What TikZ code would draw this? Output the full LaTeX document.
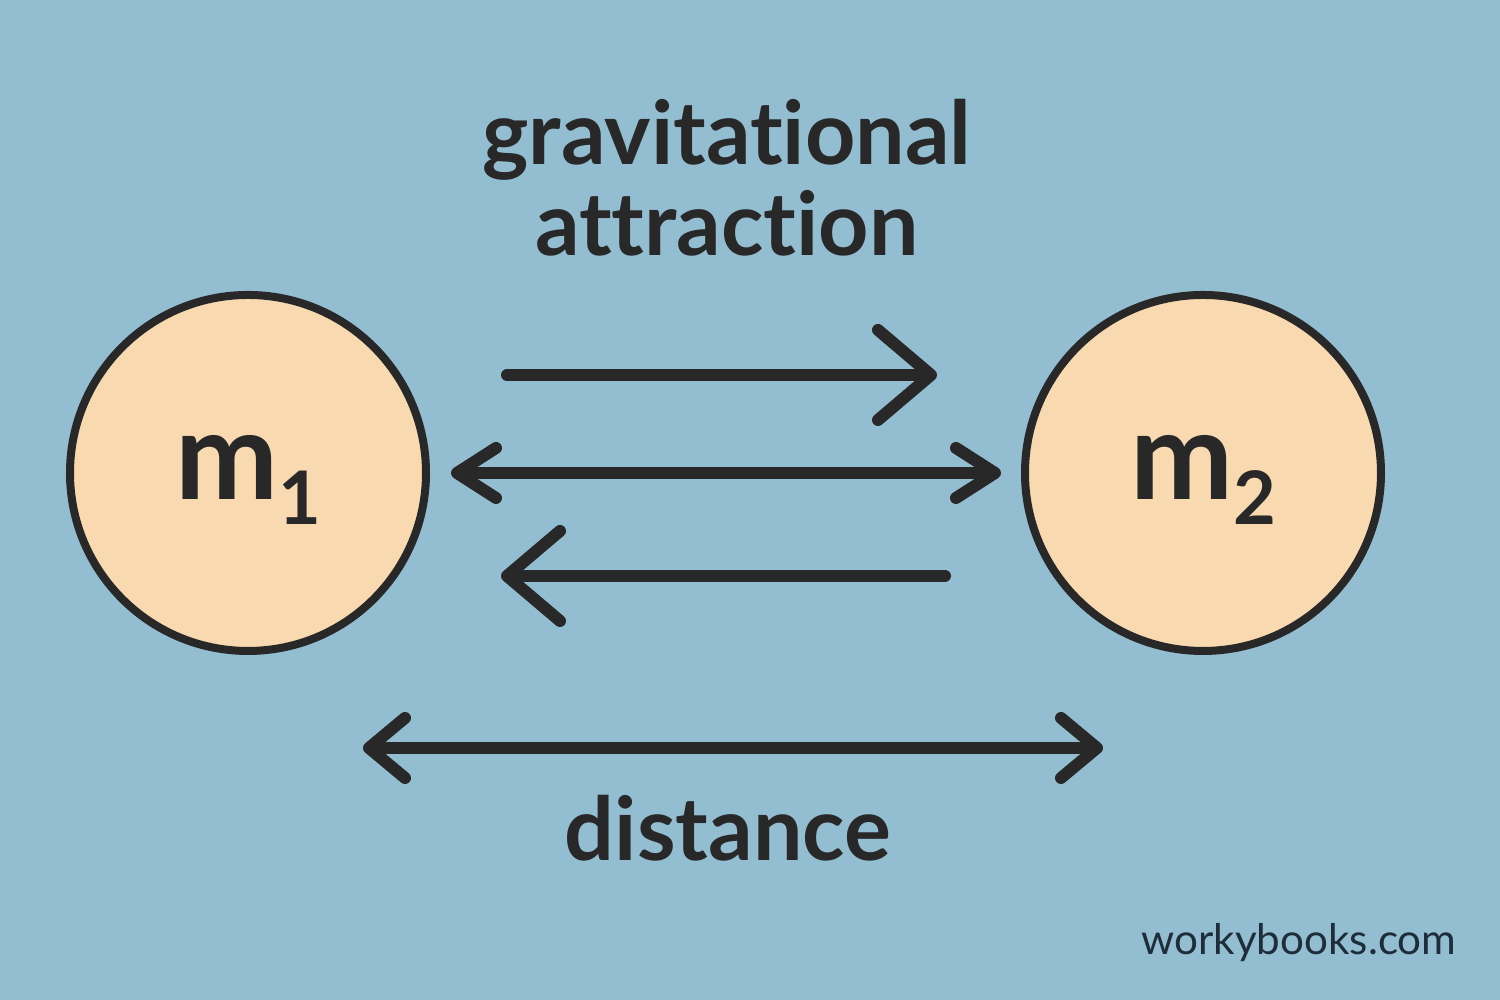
\documentclass[tikz,border=0pt]{standalone}
\usepackage{fontspec}
\setmainfont{Lato}[Ligatures=NoCommon]
\usepackage{tikz}
\usetikzlibrary{arrows.meta,positioning}
\definecolor{skyback}{RGB}{147,189,208}
\definecolor{massfill}{RGB}{249,218,176}
\definecolor{ink}{RGB}{40,40,40}
\definecolor{webink}{RGB}{30,45,58}

\begin{document}
\begin{tikzpicture}[
      mass/.style={circle, draw=ink, line width=0.08cm, fill=massfill,
                   minimum size=3.56cm, inner sep=0pt,
                   font=\fontsize{35}{35}\selectfont\bfseries, text=ink},
      pull/.style={draw=ink, line width=0.12cm, line cap=round,
                   -{Straight Barb[length=5.3mm, width=9mm, round]}},
      both/.style={draw=ink, line width=0.12cm, line cap=round,
                   {Straight Barb[length=3.9mm, width=5mm, round]}-{Straight Barb[length=3.9mm, width=5mm, round]}},
      span/.style={draw=ink, line width=0.12cm, line cap=round,
                   {Straight Barb[length=3.6mm, width=6mm, round]}-{Straight Barb[length=3.6mm, width=6mm, round]}},
      label/.style={text=ink, font=\fontsize{25}{26}\selectfont\bfseries, align=center}]
      \fill [skyback] (0, 0) rectangle (15, 10);
      \useasboundingbox (0, 0) rectangle (15, 10);
      % the two masses
      \node [mass] (m1) at (2.48, 5.27) {\raisebox{-0.27cm}[0pt][0pt]{m\raisebox{-0.25cm}{\fontsize{21}{21}\selectfont 1}}};
      \node [mass] (m2) at (12.03, 5.27) {\raisebox{-0.27cm}[0pt][0pt]{m\raisebox{-0.25cm}{\fontsize{21}{21}\selectfont 2}}};
      \node [label] (attr) at (7.27, 8.22) {gravitational\\attraction};
      % arrows
      \coordinate (pa) at (5.07, 6.25);
      \coordinate (pb) at (9.37, 6.25);
      \coordinate (qa) at (9.45, 4.24);
      \coordinate (qb) at (5.01, 4.24);
      \coordinate (da) at (3.63, 2.52);
      \coordinate (db) at (11.03, 2.52);
      \draw [pull] (pa) -- (pb);
      \draw [both, shorten <=0.21cm, shorten >=0.20cm] (m1.east) -- (m2.west);
      \draw [pull] (qa) -- (qb);
      \draw [span] (da) -- (db);
      \node [label] (dist) at (7.28, 1.72) {distance};
      \node [text=webink, font=\fontsize{12}{12}\selectfont] (web) at (12.99, 0.57) {workybooks.com};
\end{tikzpicture}
\end{document}
